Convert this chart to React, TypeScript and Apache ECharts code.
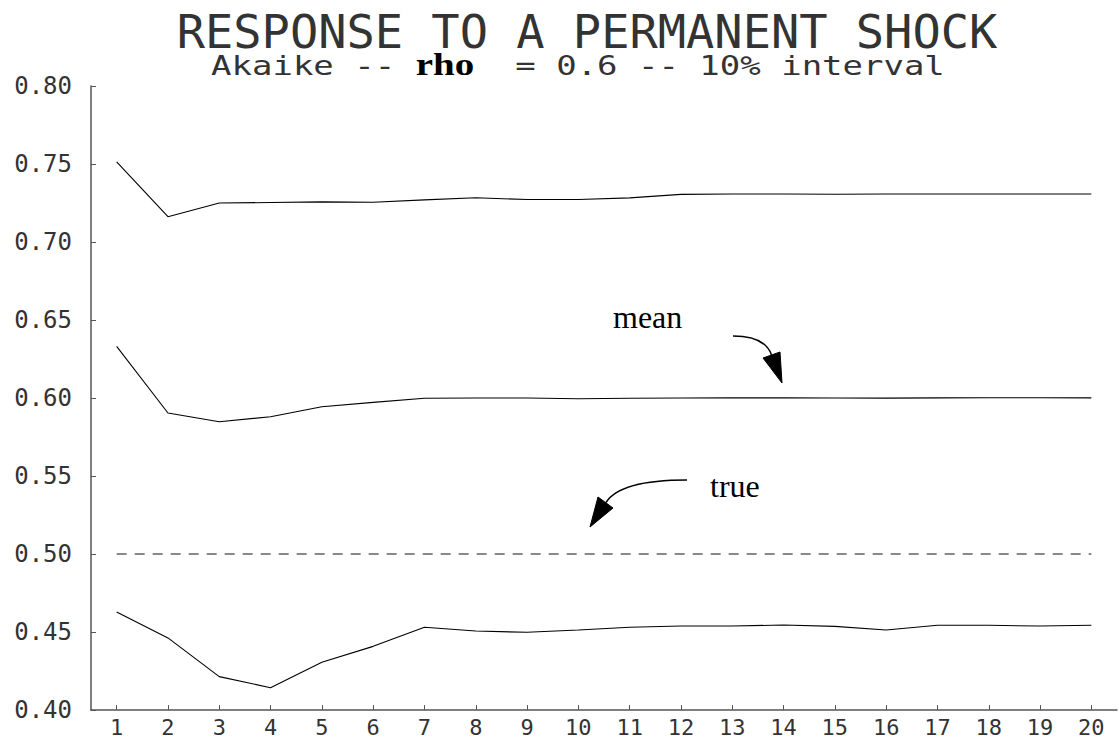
import React, { useEffect, useRef } from "react";
import * as echarts from "echarts";

const periods = ["1","2","3","4","5","6","7","8","9","10","11","12","13","14","15","16","17","18","19","20"];
const upperBand = [0.7513, 0.7162, 0.7250, 0.7253, 0.7257, 0.7255, 0.7270, 0.7284, 0.7272, 0.7272, 0.7283, 0.7305, 0.7308, 0.7308, 0.7306, 0.7308, 0.7308, 0.7308, 0.7308, 0.7308];
const meanResponse = [0.6331, 0.5904, 0.5848, 0.5880, 0.5944, 0.5972, 0.5998, 0.6000, 0.6000, 0.5995, 0.5998, 0.6000, 0.6001, 0.6001, 0.6000, 0.5999, 0.6001, 0.6002, 0.6002, 0.6001];
const lowerBand = [0.4628, 0.4462, 0.4214, 0.4143, 0.4306, 0.4408, 0.4530, 0.4506, 0.4498, 0.4513, 0.4530, 0.4538, 0.4538, 0.4545, 0.4536, 0.4513, 0.4543, 0.4543, 0.4538, 0.4543];
const trueResponse = [0.5, 0.5, 0.5, 0.5, 0.5, 0.5, 0.5, 0.5, 0.5, 0.5, 0.5, 0.5, 0.5, 0.5, 0.5, 0.5, 0.5, 0.5, 0.5, 0.5];

const MONO = '"DejaVu Sans Mono", "Liberation Mono", monospace';
const SERIF = '"Liberation Serif", "Times New Roman", serif';

export default function App() {
  const ref = useRef<HTMLDivElement>(null);
  useEffect(() => {
    if (!ref.current) return;
    const chart = echarts.init(ref.current, null, { renderer: "svg" });
    const lineSeries = (name: string, data: number[]) => ({
      name,
      type: "line",
      data,
      showSymbol: false,
      symbol: "none",
      lineStyle: { color: "#000", width: 1.1 },
      silent: true,
    });
    chart.setOption({
      animation: false,
      backgroundColor: "#fff",
      grid: { left: 91, right: 2, top: 86, bottom: 32, containLabel: false },
      xAxis: {
        type: "category",
        data: periods,
        boundaryGap: true,
        axisLine: { show: true, lineStyle: { color: "#555", width: 1.5 } },
        axisTick: { show: true, inside: true, length: 5, alignWithLabel: true, lineStyle: { color: "#555", width: 1 } },
        axisLabel: { color: "#333", fontFamily: MONO, fontSize: 22, margin: 6, interval: 0 },
        splitLine: { show: false },
      },
      yAxis: {
        type: "value",
        min: 0.4,
        max: 0.8,
        interval: 0.05,
        axisLine: { show: true, lineStyle: { color: "#555", width: 1.5 } },
        axisTick: { show: true, inside: true, length: 5, lineStyle: { color: "#555", width: 1 } },
        axisLabel: {
          color: "#333",
          fontFamily: MONO,
          fontSize: 24,
          margin: 19,
          formatter: (v: number) => v.toFixed(2),
        },
        splitLine: { show: false },
      },
      series: [
        lineSeries("upper", upperBand),
        lineSeries("mean", meanResponse),
        lineSeries("lower", lowerBand),
        {
          name: "true",
          type: "line",
          data: trueResponse,
          showSymbol: false,
          symbol: "none",
          lineStyle: { color: "#888", width: 1.8, type: [10, 8] },
          silent: true,
        },
      ],
      graphic: [
        {
          type: "text",
          x: 587,
          y: 31,
          style: {
            text: "RESPONSE TO A PERMANENT SHOCK",
            font: `47px ${MONO}`,
            lineHeight: 38,
            fill: "#333",
            align: "center",
            verticalAlign: "middle",
          },
        },
        {
          type: "text",
          x: 578,
          y: 65,
          scaleY: 0.8,
          style: {
            text: "{m|Akaike -- }{b|rho}{m|  = 0.6 -- 10% interval}",
            align: "center",
            verticalAlign: "middle",
            rich: {
              m: { fontFamily: MONO, fontSize: 34, lineHeight: 30, fill: "#333", color: "#333" },
              b: { fontFamily: SERIF, fontSize: 39, lineHeight: 30, fontWeight: "bold", fill: "#000", color: "#000" },
            },
          },
        },
        {
          type: "text",
          x: 613,
          y: 333,
          style: { text: "mean", font: `32px ${SERIF}`, fill: "#000", align: "left", verticalAlign: "bottom" },
        },
        {
          type: "text",
          x: 710,
          y: 502,
          style: { text: "true", font: `32px ${SERIF}`, fill: "#000", align: "left", verticalAlign: "bottom" },
        },
        {
          type: "bezierCurve",
          shape: { x1: 733, y1: 336, cpx1: 765, cpy1: 336, x2: 771.5, y2: 355 },
          style: { stroke: "#000", lineWidth: 1.5, fill: null },
        },
        {
          type: "polygon",
          shape: { points: [[763, 358], [780, 352], [782, 383]] },
          style: { fill: "#000", stroke: "#000", lineWidth: 1 },
        },
        {
          type: "bezierCurve",
          shape: { x1: 687, y1: 480, cpx1: 620, cpy1: 480, x2: 606, y2: 502.5 },
          style: { stroke: "#000", lineWidth: 1.5, fill: null },
        },
        {
          type: "polygon",
          shape: { points: [[598, 497], [613, 508], [590, 527]] },
          style: { fill: "#000", stroke: "#000", lineWidth: 1 },
        },
      ],
    });
    return () => chart.dispose();
  }, []);
  return <div ref={ref} style={{ width: 1119, height: 742, position: "absolute", left: 0, top: 0 }} />;
}
